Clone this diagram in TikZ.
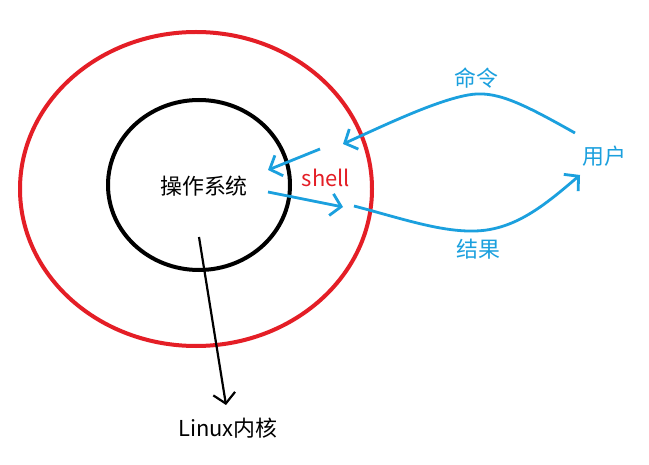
\documentclass[tikz,border=0pt]{standalone}
\usepackage{fontspec}
\setmainfont{Noto Sans CJK SC}
\usetikzlibrary{arrows.meta}
\definecolor{shellred}{RGB}{228,30,38}
\definecolor{userblue}{RGB}{27,160,222}
\tikzset{
  label text/.style={font=\fontsize{22}{26}\selectfont,inner sep=0pt},
  flow/.style={userblue,line width=2.8bp,-{Straight Barb[length=10bp,width=22bp,line width=2.8bp]}},
}
\begin{document}
\begin{tikzpicture}[x=1bp,y=-1bp]
\path[use as bounding box,fill=white] (0,0) rectangle (649,465);
\draw[shellred,line width=4bp] (196,189) ellipse[x radius=176,y radius=157];
\draw[black,line width=4bp] (199,185) ellipse[x radius=91,y radius=85];
\node[label text] (os) at (204,186) {操作系统};
\node[label text,text=shellred] (shell) at (326,178) {shell};
\node[label text,text=userblue] (cmd) at (476,78) {命令};
\node[label text,text=userblue] (user) at (604,156) {用户};
\node[label text,text=userblue] (res) at (478,249) {结果};
\node[label text] (kernel) at (228,428) {Linux内核};
% blue flows
\coordinate (cmdstart) at (575,133);
\coordinate (cmdend) at (343,144);
\coordinate (inA) at (320,149);
\coordinate (inB) at (268,170);
\coordinate (outA) at (268,192);
\coordinate (outB) at (343,207);
\coordinate (resstart) at (354,206);
\coordinate (resend) at (580,175);
\draw[flow] (cmdstart) .. controls (520,102) and (495,90) .. (468,95)
  .. controls (435,101) and (385,125) .. (cmdend);
\draw[flow] (inA) -- (inB);
\draw[flow] (outA) -- (outB);
\draw[flow] (resstart) .. controls (400,218) and (440,232) .. (475,231)
  .. controls (515,230) and (545,205) .. (resend);
% kernel arrow
\coordinate (kstart) at (199,237);
\coordinate (kend) at (226,405);
\draw[black,line width=2.2bp,-{Straight Barb[length=10bp,width=22bp,line width=2.2bp]}] (kstart) -- (kend);
\end{tikzpicture}
\end{document}
